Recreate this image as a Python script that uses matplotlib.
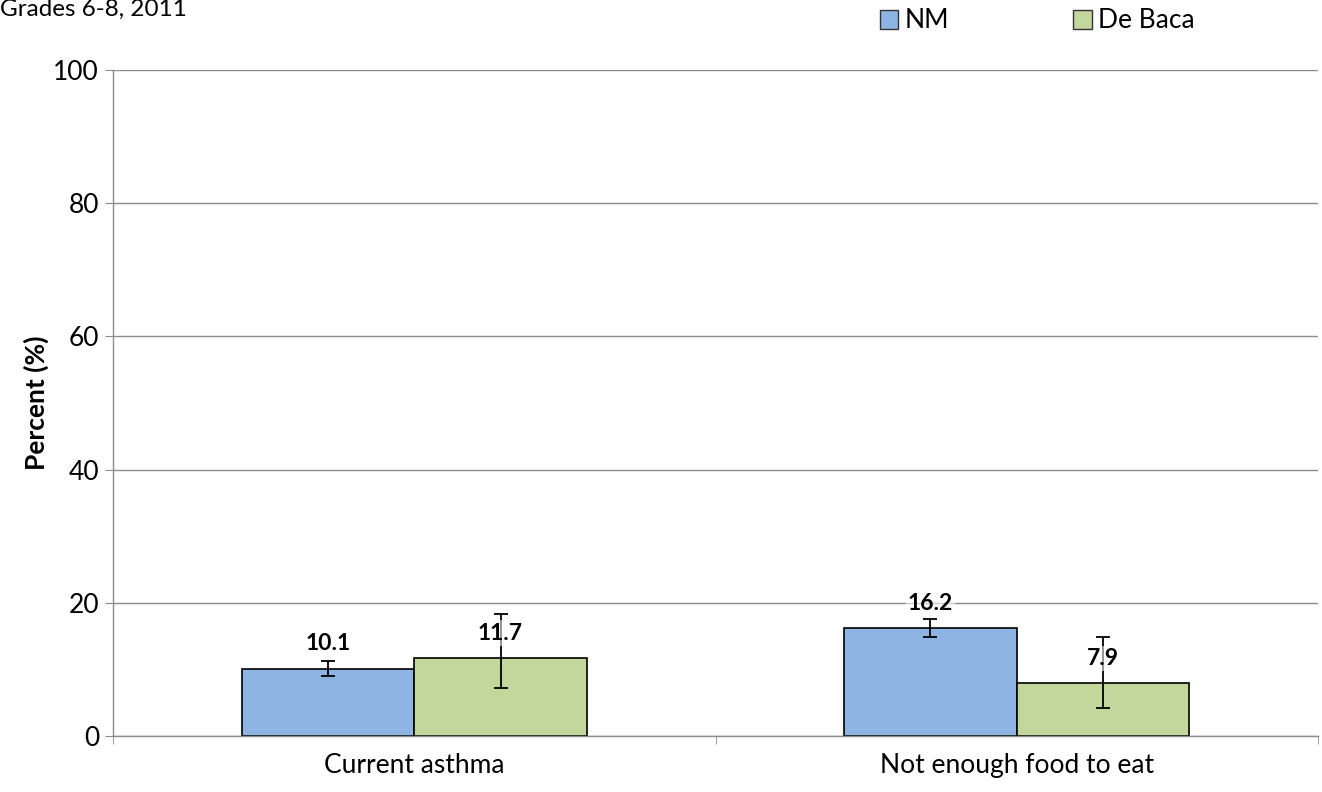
import numpy as np
import matplotlib.pyplot as plt
from matplotlib.patches import Patch

plt.rcParams['font.family'] = ['Lato', 'DejaVu Sans']

categories = ["Current asthma", "Not enough food to eat"]
series = ["NM", "De Baca"]
nm_vals = [10.1, 16.2]
deb_vals = [11.7, 7.9]
nm_low = [9.0, 14.9]
nm_high = [11.2, 17.6]
deb_low = [7.2, 4.2]
deb_high = [18.3, 14.8]
colors = ["#8EB4E3", "#C3D69B"]

fig = plt.figure(figsize=(13.22, 7.92), dpi=100)
ax = fig.add_axes([113 / 1322, 56 / 792, 1205 / 1322, 666 / 792])

x = np.arange(len(categories))
w = 0.2865

groups = [(nm_vals, nm_low, nm_high), (deb_vals, deb_low, deb_high)]
for i, (vals, lo, hi) in enumerate(groups):
    pos = x + (i - 0.5) * w
    ax.bar(pos, vals, w, color=colors[i], edgecolor="black", linewidth=1.2, zorder=2)
    yerr = [np.array(vals) - np.array(lo), np.array(hi) - np.array(vals)]
    ax.errorbar(pos, vals, yerr=yerr, fmt="none", ecolor="black", elinewidth=1.3,
                capsize=5, capthick=1.3, zorder=3)
    for p, v in zip(pos, vals):
        ax.annotate(f"{v:.1f}", (p, v), xytext=(0, 18), textcoords="offset points",
                    ha="center", va="center", fontsize=16.5, fontweight="bold", zorder=4,
                    bbox=dict(boxstyle="square,pad=0.1", fc="white", ec="none", alpha=0.55))

ax.set_xlim(-0.5, 1.5)
ax.set_ylim(0, 100)
ax.set_yticks(range(0, 101, 20))
ax.yaxis.grid(True, color="#8C8C8C", linewidth=1.0, zorder=0)
ax.set_axisbelow(True)
ax.set_xticks(x)
ax.set_xticklabels(categories, fontsize=19)
ax.tick_params(axis="x", length=0, pad=12)
ax.set_xticks([-0.5, 0.5, 1.5], minor=True)
ax.tick_params(axis="x", which="minor", length=6, color="#8C8C8C")
ax.tick_params(axis="y", labelsize=19, length=6, color="#8C8C8C", pad=4)
for s in ["top", "right"]:
    ax.spines[s].set_visible(False)
for s in ["left", "bottom"]:
    ax.spines[s].set_color("#8C8C8C")
    ax.spines[s].set_linewidth(1.0)

ax.set_ylabel("Percent (%)", fontsize=19, fontweight="bold", labelpad=3)

fig.text(0.0, 1 - 16 / 792, "Grades 6-8, 2011", fontsize=17.5, ha="left", va="baseline")

handles = [Patch(facecolor=c, edgecolor="#333333", linewidth=1.0) for c in colors]
fig.legend(handles, series, ncol=2, loc="center left", bbox_to_anchor=(869 / 1322, 1 - 21 / 792),
           frameon=False, fontsize=19, handlelength=0.7, handleheight=0.7,
           handletextpad=0.25, columnspacing=4.7, borderaxespad=0)

fig.savefig("out.png", dpi=100)
